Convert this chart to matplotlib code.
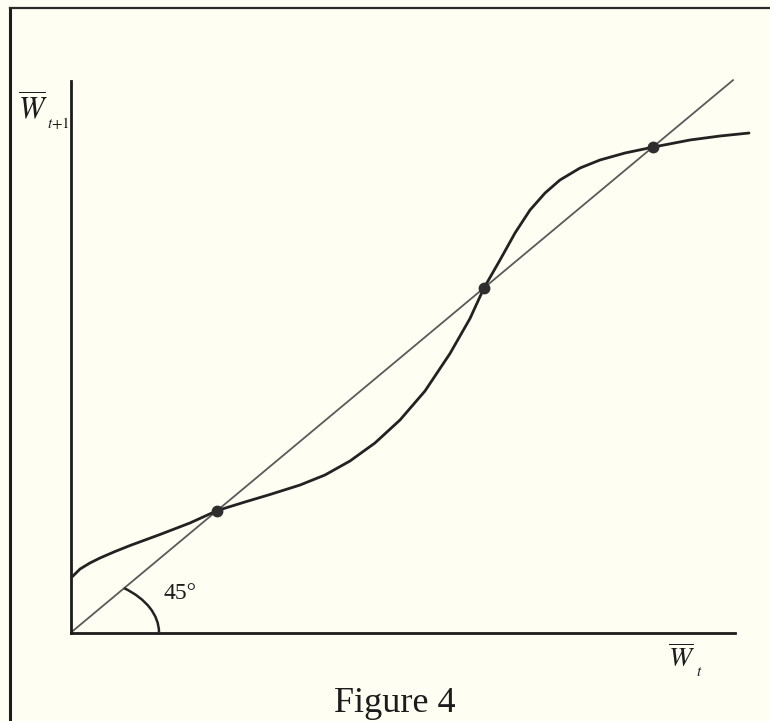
import matplotlib
matplotlib.use("Agg")
import matplotlib.pyplot as plt
from matplotlib.patches import Arc
from matplotlib.lines import Line2D

plt.rcParams['font.family'] = ['Liberation Serif', 'DejaVu Serif']
plt.rcParams['mathtext.fontset'] = 'stix'

# Data (diagonal is the 45-degree line y = x)
curve_x = [0.0015, 0.0136, 0.0286, 0.0437, 0.0663, 0.0889, 0.1340, 0.1792, 0.220,
           0.2620, 0.2997, 0.3449, 0.3825, 0.4202, 0.4578, 0.4955, 0.5331, 0.5708,
           0.6009, 0.622, 0.6461, 0.6687, 0.6913, 0.7139, 0.7364, 0.7666, 0.7967,
           0.8343, 0.876, 0.9322, 0.9774, 1.0211]
curve_y = [0.1002, 0.1146, 0.1255, 0.1345, 0.1462, 0.1570, 0.1769, 0.1977, 0.220,
           0.2356, 0.2491, 0.2662, 0.2843, 0.3096, 0.3421, 0.3836, 0.4359, 0.5036,
           0.5668, 0.622, 0.6724, 0.7211, 0.7626, 0.7933, 0.8168, 0.8384, 0.8529,
           0.8655, 0.876, 0.8890, 0.8962, 0.9016]
diag_x = [0.0, 0.997]
diag_y = [0.0, 0.997]
fixed_x = [0.220, 0.622, 0.876]
fixed_y = [0.220, 0.622, 0.876]

bg = '#fefef3'
ink = '#1c1c1c'
W, H = 770, 721
fig = plt.figure(figsize=(W / 100, H / 100), dpi=100, facecolor=bg)

ax = fig.add_axes([71 / W, (H - 632.5) / H, 664 / W, 551.5 / H])
ax.set_facecolor(bg)
ax.set_xlim(0, 1.0)
ax.set_ylim(0, 551.5 / 554)

for s in ['top', 'right']:
    ax.spines[s].set_visible(False)
for s in ['left', 'bottom']:
    ax.spines[s].set_linewidth(2.0)
    ax.spines[s].set_color(ink)
ax.set_xticks([])
ax.set_yticks([])

ax.plot(diag_x, diag_y, color='#5a5a5a', lw=1.3, clip_on=False, zorder=2)
ax.plot(curve_x, curve_y, color='#222222', lw=2.0, clip_on=False, zorder=3,
        solid_joinstyle='round', solid_capstyle='round')
ax.plot(fixed_x, fixed_y, 'o', color='#2e2e2e', ms=7.5, clip_on=False, zorder=4)

arc = Arc((0, 0), width=2 * 0.1325, height=2 * 0.1004, theta1=0, theta2=45,
          color='#222222', lw=1.8, zorder=3)
ax.add_patch(arc)
ax.text(0.164, 0.0695, '45°', fontsize=17, ha='center', va='center', color=ink)

# axis labels
fig.text(33 / W, 1 - 109 / H, r'$\overline{W}$', fontsize=22, ha='center',
         va='center', color=ink)
fig.text(47 / W, 1 - 123 / H, r'$t\mathrm{+1}$', fontsize=11, ha='left',
         va='center', color=ink)
fig.text(682 / W, 1 - 659 / H, r'$\overline{W}$', fontsize=20, ha='center',
         va='center', color=ink)
fig.text(696 / W, 1 - 673 / H, r'$t$', fontsize=11, ha='left',
         va='center', color=ink)
fig.text(395 / W, 1 - 703 / H, 'Figure 4', fontsize=26, ha='center', va='center',
         color=ink)

# outer frame (left and top edges visible)
fig.add_artist(Line2D([10 / W, 10 / W], [0, 1 - 8 / H], transform=fig.transFigure,
                      color=ink, lw=2.2))
fig.add_artist(Line2D([10 / W, 1], [1 - 8 / H, 1 - 8 / H], transform=fig.transFigure,
                      color='#2a2a2a', lw=1.6))

fig.savefig('out.png', dpi=100, facecolor=bg)
